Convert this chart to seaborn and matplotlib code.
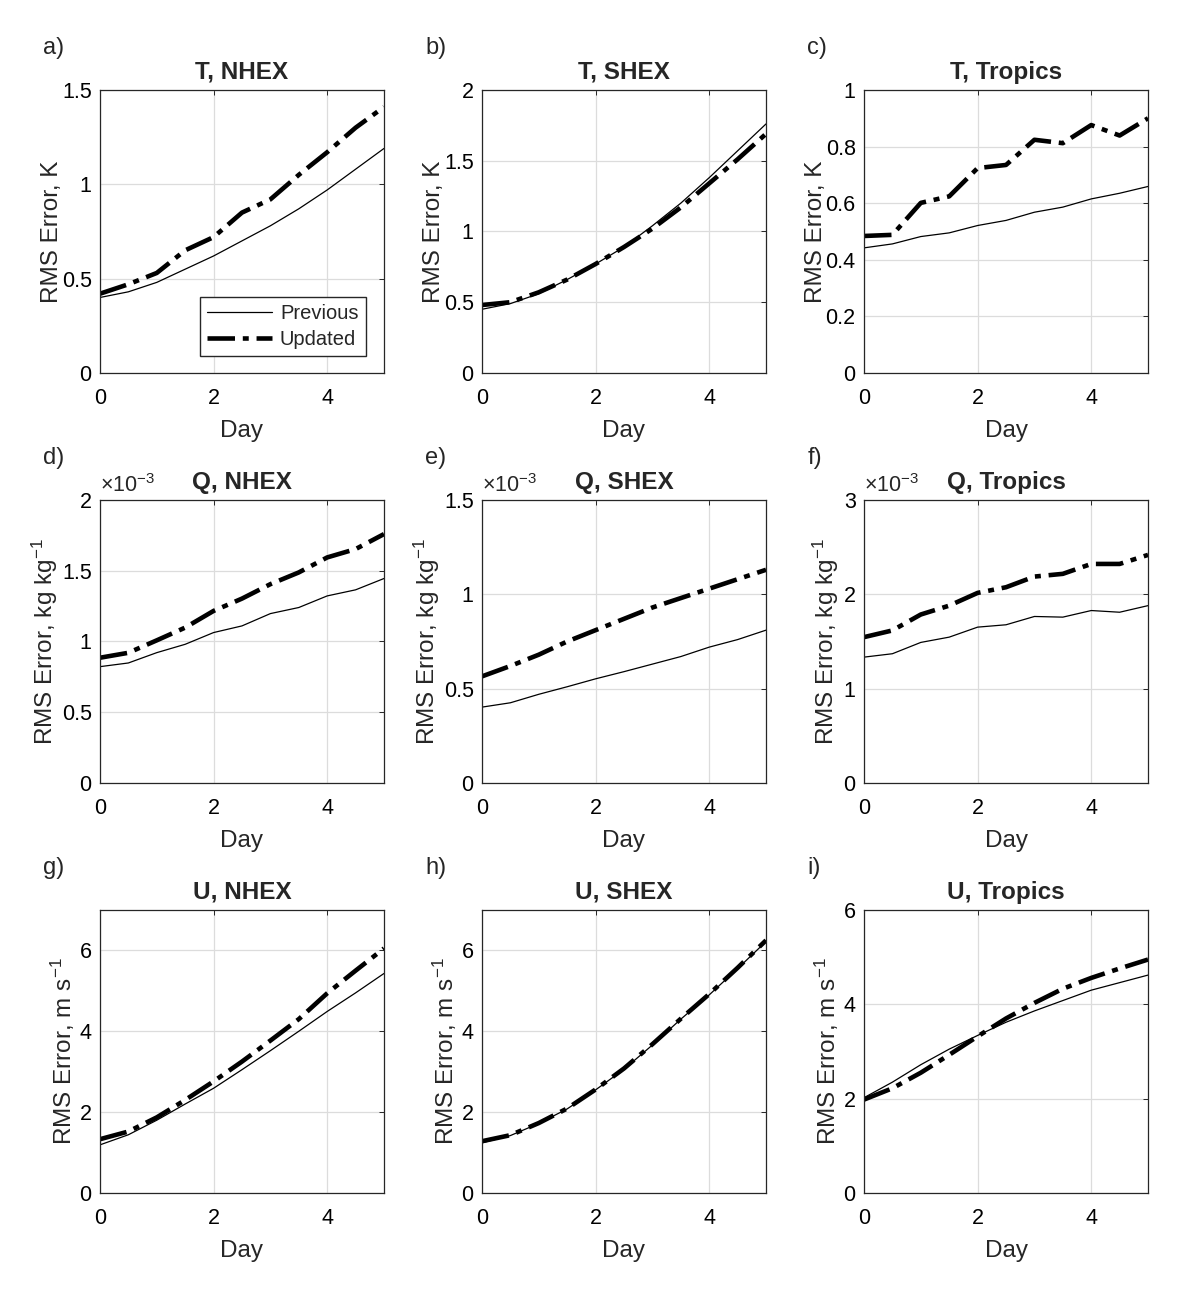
import numpy as np
import pandas as pd
import seaborn as sns
import matplotlib
matplotlib.use('Agg')
import matplotlib.pyplot as plt
from matplotlib.ticker import FormatStrFormatter, MultipleLocator

# forecast lead time, days
days = [0, 0.5, 1, 1.5, 2, 2.5, 3, 3.5, 4, 4.5, 5]

# temperature RMS error, K
t_nhex_prev = [0.40, 0.43, 0.48, 0.55, 0.62, 0.70, 0.78, 0.87, 0.97, 1.08, 1.19]
t_nhex_upd = [0.42, 0.47, 0.53, 0.65, 0.72, 0.85, 0.92, 1.05, 1.17, 1.30, 1.41]
t_shex_prev = [0.45, 0.49, 0.56, 0.66, 0.77, 0.89, 1.04, 1.20, 1.38, 1.57, 1.76]
t_shex_upd = [0.48, 0.50, 0.57, 0.66, 0.77, 0.89, 1.02, 1.17, 1.34, 1.51, 1.69]
t_trop_prev = [0.442, 0.456, 0.482, 0.495, 0.521, 0.539, 0.568, 0.586, 0.615, 0.635, 0.659]
t_trop_upd = [0.484, 0.488, 0.601, 0.624, 0.724, 0.735, 0.824, 0.812, 0.876, 0.839, 0.900]

# humidity RMS error, 1e-3 kg/kg
q_nhex_prev = [0.822, 0.848, 0.921, 0.980, 1.063, 1.110, 1.197, 1.240, 1.322, 1.365, 1.445]
q_nhex_upd = [0.885, 0.920, 1.008, 1.098, 1.216, 1.303, 1.405, 1.488, 1.594, 1.653, 1.759]
q_shex_prev = [0.402, 0.425, 0.470, 0.510, 0.552, 0.590, 0.630, 0.670, 0.720, 0.760, 0.810]
q_shex_upd = [0.565, 0.620, 0.680, 0.750, 0.810, 0.870, 0.930, 0.980, 1.030, 1.080, 1.130]
q_trop_prev = [1.334, 1.370, 1.490, 1.546, 1.652, 1.677, 1.765, 1.758, 1.828, 1.810, 1.880]
q_trop_upd = [1.546, 1.617, 1.786, 1.880, 2.015, 2.075, 2.188, 2.217, 2.322, 2.322, 2.418]

# zonal wind RMS error, m/s
u_nhex_prev = [1.19, 1.44, 1.80, 2.20, 2.59, 3.05, 3.52, 4.00, 4.49, 4.95, 5.43]
u_nhex_upd = [1.33, 1.52, 1.87, 2.30, 2.76, 3.25, 3.77, 4.30, 4.94, 5.50, 6.05]
u_shex_prev = [1.24, 1.42, 1.72, 2.08, 2.55, 3.06, 3.66, 4.30, 4.90, 5.55, 6.22]
u_shex_upd = [1.28, 1.43, 1.73, 2.09, 2.56, 3.08, 3.68, 4.31, 4.92, 5.57, 6.25]
u_trop_prev = [2.02, 2.35, 2.72, 3.05, 3.34, 3.62, 3.86, 4.08, 4.30, 4.46, 4.62]
u_trop_upd = [1.98, 2.22, 2.55, 2.93, 3.32, 3.70, 4.03, 4.33, 4.56, 4.76, 4.95]

panel_letters = ['a)', 'b)', 'c)', 'd)', 'e)', 'f)', 'g)', 'h)', 'i)']
titles = ['T, NHEX', 'T, SHEX', 'T, Tropics',
          'Q, NHEX', 'Q, SHEX', 'Q, Tropics',
          'U, NHEX', 'U, SHEX', 'U, Tropics']
series = [(t_nhex_prev, t_nhex_upd), (t_shex_prev, t_shex_upd), (t_trop_prev, t_trop_upd),
          (q_nhex_prev, q_nhex_upd), (q_shex_prev, q_shex_upd), (q_trop_prev, q_trop_upd),
          (u_nhex_prev, u_nhex_upd), (u_shex_prev, u_shex_upd), (u_trop_prev, u_trop_upd)]
ylabels = ['RMS Error, K'] * 3 + ['RMS Error, kg kg$^{-1}$'] * 3 + ['RMS Error, m s$^{-1}$'] * 3
ylims = [1.5, 2, 1, 2, 1.5, 3, 7, 7, 6]
ysteps = [0.5, 0.5, 0.2, 0.5, 0.5, 1, 2, 2, 2]

sns.set_style('white', {
    'xtick.direction': 'in', 'ytick.direction': 'in',
    'axes.edgecolor': '#262626',
})
plt.rcParams['font.family'] = ['Liberation Sans', 'DejaVu Sans']
plt.rcParams['mathtext.fontset'] = 'custom'
plt.rcParams['mathtext.rm'] = 'Liberation Sans'
plt.rcParams['mathtext.it'] = 'Liberation Sans:italic'
plt.rcParams['mathtext.bf'] = 'Liberation Sans:bold'

fig, axes = plt.subplots(3, 3, figsize=(12, 12.89), dpi=100)
fig.subplots_adjust(left=0.0833, right=0.9567, top=0.9302, bottom=0.0745,
                    wspace=0.345, hspace=0.449)

for i, ax in enumerate(axes.flat):
    prev, upd = series[i]
    df = pd.DataFrame({
        'Day': days + days,
        'RMS': prev + upd,
        'Run': ['Previous'] * len(days) + ['Updated'] * len(days),
    })
    sns.lineplot(data=df, x='Day', y='RMS', style='Run', size='Run',
                 sizes={'Previous': 0.9, 'Updated': 3.3},
                 dashes={'Previous': '', 'Updated': (6, 1.7, 1.3, 1.7)},
                 color='black', ax=ax, legend=(i == 0))

    ax.set_xlim(0, 5)
    ax.set_ylim(0, ylims[i])
    ax.xaxis.set_major_locator(MultipleLocator(2))
    ax.yaxis.set_major_locator(MultipleLocator(ysteps[i]))
    ax.xaxis.set_major_formatter(FormatStrFormatter('%g'))
    ax.yaxis.set_major_formatter(FormatStrFormatter('%g'))
    ax.grid(True, color='#dcdcdc', linewidth=0.9)
    ax.set_axisbelow(True)
    ax.tick_params(which='both', direction='in', top=True, right=True,
                   length=3.5, width=0.7, labelsize=15.5, colors='#262626')
    ax.tick_params(axis='x', pad=11)
    ax.tick_params(axis='y', pad=6)
    ax.tick_params(labelcolor='black')
    for s in ax.spines.values():
        s.set_linewidth(0.9)
        s.set_color('#262626')

    ax.set_title(titles[i], fontsize=17.5, fontweight='bold', pad=8)
    ax.set_xlabel('Day', fontsize=17.5, labelpad=8)
    ax.set_ylabel(ylabels[i], fontsize=17.5, labelpad=(-1 if i < 3 else 1.5))
    ax.text(-0.2, 1.15, panel_letters[i], transform=ax.transAxes,
            fontsize=17, ha='left', va='center')
    if 3 <= i <= 5:
        ax.text(0.0, 1.012, r'$\times10^{-3}$', transform=ax.transAxes,
                fontsize=15.5, ha='left', va='bottom')

    if i == 0:
        handles, labels = ax.get_legend_handles_labels()
        keep = [(h, l) for h, l in zip(handles, labels) if l in ('Previous', 'Updated')]
        ax.legend([k[0] for k in keep], [k[1] for k in keep],
                  loc='lower right', bbox_to_anchor=(0.935, 0.06), borderaxespad=0,
                  fontsize=14.5, handlelength=3.2, fancybox=False, framealpha=1,
                  edgecolor='#262626', borderpad=0.35, labelspacing=0.35,
                  handletextpad=0.4)

fig.savefig('out.png', dpi=100)
